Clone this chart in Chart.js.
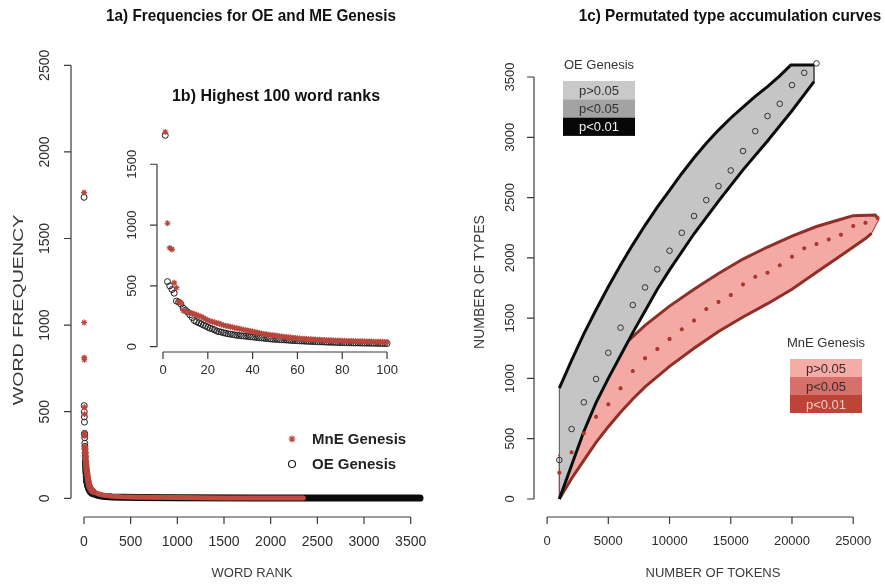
<!DOCTYPE html>
<html>
<head>
<meta charset="utf-8">
<script src="https://cdn.jsdelivr.net/npm/chart.js@4.4.1/dist/chart.umd.min.js"></script>
<style>
  html, body { margin: 0; padding: 0; background: #fff; }
  #wrap { position: relative; width: 885px; height: 584px; }
  #wrap canvas { position: absolute; left: 0; top: 0; }
</style>
</head>
<body>
<div id="wrap">
  <canvas id="freqChart" width="885" height="584"></canvas>
  <canvas id="topChart" width="885" height="584"></canvas>
  <canvas id="typeChart" width="885" height="584"></canvas>
</div>
<script>
// ---- word frequencies by rank (top 100) ----
const ranks100 = Array.from({ length: 100 }, (_, i) => i + 1);
const oeTop = [
  1738, 535, 500, 470, 440, 375, 368, 350, 318, 300,
  285, 262, 240, 215, 205, 196, 188, 178, 170, 160,
  152, 146, 139, 128, 124, 120, 115, 110, 106, 103,
  100, 97, 94, 92, 89, 88, 86, 84, 82, 80,
  78, 75, 73, 72, 70, 68, 66, 64, 62, 61,
  60, 58, 57, 56, 55, 54, 52, 51, 50, 49,
  48, 47, 46, 45, 44, 44, 43, 42, 41, 40,
  40, 39, 38, 37, 37, 36, 36, 35, 34, 34,
  33, 33, 32, 32, 31, 31, 31, 30, 30, 30,
  29, 29, 29, 28, 28, 28, 27, 27, 27, 26
];
const mneTop = [
  1765, 1015, 812, 800, 525, 485, 372, 360, 298, 290,
  285, 280, 274, 268, 262, 255, 247, 238, 228, 218,
  210, 205, 200, 195, 190, 183, 177, 172, 168, 164,
  160, 156, 152, 148, 144, 140, 136, 132, 128, 124,
  120, 116, 112, 108, 105, 102, 99, 96, 94, 92,
  89, 86, 84, 81, 79, 77, 75, 73, 71, 70,
  68, 66, 65, 64, 62, 61, 60, 59, 58, 57,
  56, 55, 54, 53, 52, 51, 51, 50, 49, 49,
  48, 47, 47, 46, 46, 45, 45, 44, 44, 43,
  43, 42, 42, 41, 41, 40, 40, 40, 39, 39
];
// long tails (rank, frequency)
const oeTailRanks = [150, 200, 300, 400, 600, 1000, 1800, 3600];
const oeTailFreq = [17, 12, 8, 6, 4, 3, 2, 1];
const mneTailRanks = [150, 200, 300, 400, 600, 1000, 1500, 2350];
const mneTailFreq = [26, 19, 12, 9, 6, 4, 2, 1];

const freqTicks = [0, 500, 1000, 1500, 2000, 2500];
const rankTicks = [0, 500, 1000, 1500, 2000, 2500, 3000, 3500];
const topFreqTicks = [0, 500, 1000, 1500];
const topRankTicks = [0, 20, 40, 60, 80, 100];

// ---- permutated type accumulation ----
const oeSteps = [1000, 2000, 3000, 4000, 5000, 6000, 7000, 8000, 9000, 10000, 11000,
  12000, 13000, 14000, 15000, 16000, 17000, 18000, 19000, 20000, 21000, 22000];
const oeMeanTypes = [323, 580, 802, 995, 1213, 1421, 1609, 1755, 1905, 2059, 2208,
  2347, 2479, 2595, 2725, 2886, 3051, 3176, 3278, 3433, 3535, 3613];
const mneSteps = [1000, 2000, 3000, 4000, 5000, 6000, 7000, 8000, 9000, 10000, 11000,
  12000, 13000, 14000, 15000, 16000, 17000, 18000, 19000, 20000, 21000, 22000,
  23000, 24000, 25000, 26000, 27000];
const mneMeanTypes = [218, 387, 545, 682, 785, 918, 1061, 1167, 1244, 1327, 1407,
  1480, 1575, 1634, 1692, 1780, 1843, 1877, 1938, 2010, 2079, 2114,
  2153, 2192, 2264, 2291, 2330];

const oeUpperTokens = [1000, 2000, 3000, 4000, 5000, 6000, 7000, 8000, 9000, 10000, 11000,
  12000, 13000, 14000, 15000, 16000, 17000, 18000, 19000, 19900, 21800];
const oeUpperTypes = [920, 1150, 1370, 1570, 1760, 1940, 2110, 2270, 2420, 2560, 2700,
  2830, 2950, 3060, 3160, 3250, 3340, 3420, 3510, 3599, 3599];
const oeLowerTokens = [1000, 2000, 3000, 4000, 5000, 6000, 7000, 8000, 9000, 10000,
  12000, 14000, 16000, 18000, 20000, 21800];
const oeLowerTypes = [0, 280, 560, 800, 1000, 1190, 1380, 1560, 1740, 1900,
  2200, 2470, 2730, 2970, 3220, 3461];

const mneUpperTokens = [1000, 2000, 3000, 4000, 5000, 6000, 6400, 8000, 10000, 12000,
  14000, 16000, 18000, 20000, 22000, 24000, 25000, 26800, 27100];
const mneUpperTypes = [350, 550, 740, 900, 1050, 1230, 1290, 1440, 1600, 1740,
  1870, 1990, 2090, 2180, 2260, 2320, 2350, 2355, 2320];
const mneLowerTokens = [1000, 2000, 3000, 4000, 5000, 6000, 7000, 8000, 10000, 12000,
  14000, 16000, 18000, 20000, 22000, 24000, 26000, 26500];
const mneLowerTypes = [0, 170, 320, 470, 600, 720, 830, 930, 1100, 1250,
  1390, 1510, 1620, 1740, 1880, 2020, 2160, 2203];

const tokenTicks = [0, 5000, 10000, 15000, 20000, 25000];
const typeTicks = [0, 500, 1000, 1500, 2000, 2500, 3000, 3500];
const pLabels = ['p>0.05', 'p<0.05', 'p<0.01'];
const oeShades = ['#c9c9c9', '#a3a3a3', '#070707'];
const mneShades = ['#f5aba6', '#d5706a', '#bf4438'];

const SANS = '"Liberation Sans", Arial, sans-serif';
const RED = '#b8463c';

Chart.defaults.animation = false;
Chart.defaults.events = [];
Chart.defaults.font.family = SANS;

const pts = (xs, ys) => xs.map((x, i) => ({ x, y: ys[i] }));

// rotated text, optionally stretched along its baseline
function vtext(ctx, text, x, y, stretch) {
  ctx.save();
  ctx.translate(x, y);
  ctx.rotate(-Math.PI / 2);
  if (stretch) ctx.scale(stretch, 1);
  ctx.fillText(String(text), 0, 0);
  ctx.restore();
}

function drawMark(ctx, style, x, y, r) {
  ctx.beginPath();
  if (style === 'circle') {
    ctx.arc(x, y, r, 0, Math.PI * 2);
  } else {
    const d = r * Math.SQRT1_2;
    ctx.moveTo(x - r, y); ctx.lineTo(x + r, y);
    ctx.moveTo(x, y - r); ctx.lineTo(x, y + r);
    ctx.moveTo(x - d, y - d); ctx.lineTo(x + d, y + d);
    ctx.moveTo(x - d, y + d); ctx.lineTo(x + d, y - d);
  }
  ctx.stroke();
}

// base-graphics style axes: lines span first..last tick only, labels on y rotated
const rAxes = {
  id: 'rAxes',
  afterDraw(chart, args, o) {
    const { ctx, chartArea: a } = chart;
    const x = chart.scales.x, y = chart.scales.y;
    const xs = o.xTicks.map(v => x.getPixelForValue(v));
    const ys = o.yTicks.map(v => y.getPixelForValue(v));
    ctx.save();
    ctx.lineWidth = 1.2;
    ctx.strokeStyle = '#3a3a3a';
    ctx.beginPath();
    ctx.moveTo(xs[0], a.bottom); ctx.lineTo(xs[xs.length - 1], a.bottom);
    xs.forEach(px => { ctx.moveTo(px, a.bottom); ctx.lineTo(px, a.bottom + 7); });
    ctx.moveTo(a.left, ys[0]); ctx.lineTo(a.left, ys[ys.length - 1]);
    ys.forEach(py => { ctx.moveTo(a.left, py); ctx.lineTo(a.left - 7, py); });
    ctx.stroke();

    ctx.fillStyle = '#2c2c2c';
    ctx.textAlign = 'center';
    ctx.textBaseline = 'middle';
    ctx.font = o.tickFont;
    o.xTicks.forEach((v, i) => ctx.fillText(String(v), xs[i], a.bottom + o.xGap));
    o.yTicks.forEach((v, i) => vtext(ctx, v, a.left - o.yGap, ys[i]));

    ctx.fillStyle = '#3a3a3a';
    if (o.xTitle) { ctx.font = o.xTitle.font; ctx.fillText(o.xTitle.text, o.xTitle.x, o.xTitle.y); }
    if (o.yTitle) {
      ctx.font = o.yTitle.font;
      vtext(ctx, o.yTitle.text, o.yTitle.x, o.yTitle.y, o.yTitle.stretch);
    }

    if (o.heading) {
      const h = o.heading;
      ctx.save();
      ctx.fillStyle = '#111';
      ctx.font = h.font;
      ctx.translate(h.x, h.y);
      ctx.scale(h.sx || 1, 1);
      ctx.fillText(h.text, 0, 0);
      ctx.restore();
    }

    if (o.keys) {
      o.keys.forEach(k => {
        ctx.strokeStyle = k.color;
        ctx.lineWidth = 1.2;
        drawMark(ctx, k.style, k.x, k.y, 3.5);
        ctx.fillStyle = '#222';
        ctx.font = o.keyFont;
        ctx.textAlign = 'left';
        ctx.fillText(k.label, k.x + 20, k.y + 1);
      });
    }

    if (o.boxes) {
      o.boxes.forEach(b => {
        ctx.textAlign = 'center';
        ctx.font = o.boxFont;
        ctx.fillStyle = '#333';
        ctx.fillText(b.title, b.x + b.w / 2, b.y - 16);
        b.labels.forEach((lab, i) => {
          ctx.fillStyle = b.fills[i];
          ctx.fillRect(b.x, b.y + i * b.h, b.w, b.h);
          ctx.fillStyle = b.inks[i];
          ctx.fillText(lab, b.x + b.w / 2, b.y + i * b.h + b.h / 2 + 1);
        });
      });
    }
    ctx.restore();
  }
};

const baseOpts = (pad, xr, yr, axes) => ({
  responsive: false,
  layout: { padding: pad },
  scales: {
    x: { type: 'linear', min: xr[0], max: xr[1], display: false },
    y: { type: 'linear', min: yr[0], max: yr[1], display: false }
  },
  plugins: { legend: { display: false }, tooltip: { enabled: false }, rAxes: axes }
});

/* 1a) frequency by word rank */
new Chart(document.getElementById('freqChart'), {
  type: 'scatter',
  data: {
    datasets: [
      { data: pts(ranks100, mneTop), pointStyle: 'star', pointRadius: 3,
        borderColor: RED, borderWidth: 1.2, order: 0 },
      { data: pts(ranks100.slice(8).concat(mneTailRanks), mneTop.slice(8).concat(mneTailFreq)),
        showLine: true, pointRadius: 0, borderColor: '#c24b3f', borderWidth: 5,
        borderCapStyle: 'round', borderJoinStyle: 'round', order: 1 },
      { data: pts(ranks100, oeTop), pointStyle: 'circle', pointRadius: 3,
        borderColor: '#1e1e1e', backgroundColor: 'rgba(0,0,0,0)', borderWidth: 1, order: 2 },
      { data: pts(ranks100.slice(29).concat(oeTailRanks), oeTop.slice(29).concat(oeTailFreq)),
        showLine: true, pointRadius: 0, borderColor: '#0a0a0a', borderWidth: 7,
        borderCapStyle: 'round', borderJoinStyle: 'round', order: 3 }
    ]
  },
  options: baseOpts({ left: 71, right: 452, top: 48, bottom: 67 }, [-139, 3739], [-108, 2600], {
    xTicks: rankTicks, yTicks: freqTicks, tickFont: '14px ' + SANS, xGap: 25, yGap: 26,
    xTitle: { text: 'WORD RANK', x: 252, y: 573, font: '13px ' + SANS },
    yTitle: { text: 'WORD FREQUENCY', x: 19, y: 310, font: '14px ' + SANS, stretch: 1.4 },
    heading: { text: '1a) Frequencies for OE and ME Genesis', x: 251, y: 16,
      font: 'bold 17px ' + SANS, sx: 0.9 },
    keyFont: 'bold 15px ' + SANS,
    keys: [
      { label: 'MnE Genesis', style: 'star', color: RED, x: 292, y: 439 },
      { label: 'OE Genesis', style: 'circle', color: '#222', x: 292, y: 464 }
    ]
  }),
  plugins: [rAxes]
});

/* 1b) inset: highest 100 ranks */
new Chart(document.getElementById('topChart'), {
  type: 'scatter',
  data: {
    datasets: [
      { data: pts(ranks100, mneTop), pointStyle: 'star', pointRadius: 3,
        borderColor: RED, borderWidth: 1.2, order: 0 },
      { data: pts(ranks100, oeTop), pointStyle: 'circle', pointRadius: 3,
        borderColor: '#1e1e1e', backgroundColor: 'rgba(0,0,0,0)', borderWidth: 1, order: 1 }
    ]
  },
  options: baseOpts({ left: 157, right: 489, top: 120, bottom: 232 }, [-2.68, 104], [-43.6, 1864], {
    xTicks: topRankTicks, yTicks: topFreqTicks, tickFont: '13px ' + SANS, xGap: 18, yGap: 25,
    heading: { text: '1b) Highest 100 word ranks', x: 276, y: 97, font: 'bold 16px ' + SANS }
  }),
  plugins: [rAxes]
});

/* 1c) type accumulation bands */
const band = (ut, uy, lt, ly) => {
  const up = pts(ut, uy), lo = pts(lt, ly).reverse();
  return up.concat(lo, [up[0]]);
};

new Chart(document.getElementById('typeChart'), {
  type: 'scatter',
  data: {
    datasets: [
      { data: pts(oeSteps, oeMeanTypes), pointStyle: 'circle', pointRadius: 2.8,
        borderColor: '#333', backgroundColor: 'rgba(0,0,0,0)', borderWidth: 1, order: 0 },
      { data: pts(mneSteps, mneMeanTypes), pointStyle: 'star', pointRadius: 2,
        borderColor: '#a8392f', borderWidth: 1.5, order: 1 },
      { data: pts(oeUpperTokens, oeUpperTypes), showLine: true, pointRadius: 0,
        borderColor: '#0c0c0c', borderWidth: 3, order: 2 },
      { data: pts(oeLowerTokens, oeLowerTypes), showLine: true, pointRadius: 0,
        borderColor: '#0c0c0c', borderWidth: 3, order: 2 },
      { data: band(oeUpperTokens, oeUpperTypes, oeLowerTokens, oeLowerTypes),
        showLine: true, pointRadius: 0, fill: 'shape', backgroundColor: '#c5c5c5',
        borderColor: '#555', borderWidth: 1, order: 3 },
      { data: pts(mneUpperTokens, mneUpperTypes), showLine: true, pointRadius: 0,
        borderColor: '#8f2f28', borderWidth: 3, order: 4 },
      { data: pts(mneLowerTokens, mneLowerTypes), showLine: true, pointRadius: 0,
        borderColor: '#8f2f28', borderWidth: 3, order: 4 },
      { data: band(mneUpperTokens, mneUpperTypes, mneLowerTokens, mneLowerTypes),
        showLine: true, pointRadius: 0, fill: 'shape', backgroundColor: '#f4a9a4',
        borderColor: '#8f2f28', borderWidth: 1, order: 5 }
    ]
  },
  options: baseOpts({ left: 534, right: 0, top: 50, bottom: 67 }, [-1069, 27147], [-149.3, 3724], {
    xTicks: tokenTicks, yTicks: typeTicks, tickFont: '13px ' + SANS, xGap: 24, yGap: 24,
    xTitle: { text: 'NUMBER OF TOKENS', x: 713, y: 573, font: '13px ' + SANS },
    yTitle: { text: 'NUMBER OF TYPES', x: 480, y: 282, font: '14px ' + SANS },
    heading: { text: '1c) Permutated type accumulation curves', x: 730, y: 16,
      font: 'bold 17px ' + SANS, sx: 0.9 },
    boxFont: '13px ' + SANS,
    boxes: [
      { title: 'OE Genesis', labels: pLabels, fills: oeShades, inks: ['#333', '#333', '#f2f2f2'],
        x: 563, y: 81, w: 72, h: 18.3 },
      { title: 'MnE Genesis', labels: pLabels, fills: mneShades, inks: ['#3a2a2a', '#3a2a2a', '#f6c9c4'],
        x: 790, y: 359, w: 72, h: 18 }
    ]
  }),
  plugins: [rAxes]
});
</script>
</body>
</html>
